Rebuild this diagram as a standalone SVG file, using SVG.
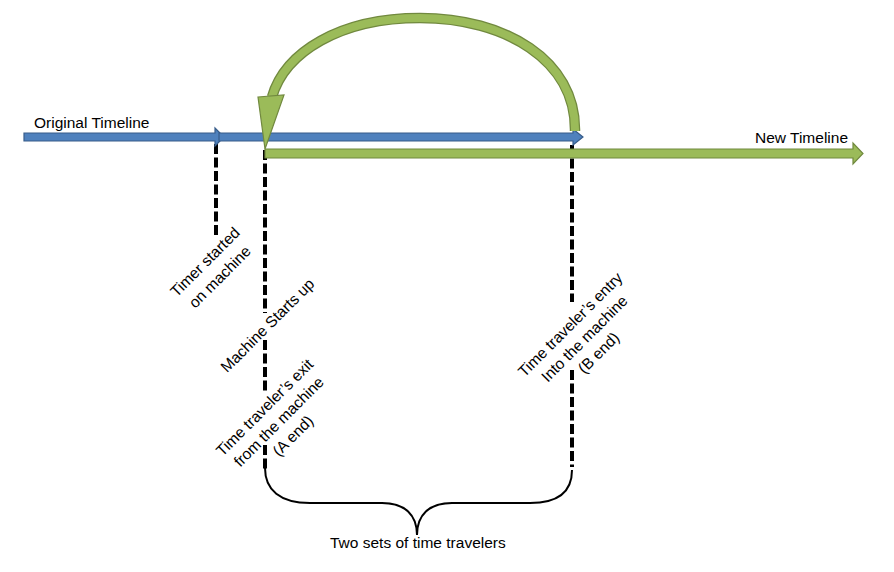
<svg xmlns="http://www.w3.org/2000/svg" width="894" height="572" viewBox="0 0 894 572">
<style>
  text { font-family: "Liberation Sans", Arial, sans-serif; font-size: 15.5px; fill: #000; }
  .rot text { text-anchor: middle; }
  .dash { stroke: #000; stroke-width: 4; stroke-dasharray: 10 3.5; fill: none; }
  .blue { fill: #4F81BD; stroke: #385D8A; stroke-width: 1.2; }
  .green { fill: #9BBB59; stroke: #71893F; stroke-width: 1.2; }
  .arcOut { fill: none; stroke: #71893F; stroke-width: 10.5; }
  .arcIn { fill: none; stroke: #9BBB59; stroke-width: 8; }
  .brace { fill: none; stroke: #000; stroke-width: 2; }
</style>
<rect width="894" height="572" fill="#fff"/>
<g id="connectors">
  <path class="dash" d="M216,144 V236"/>
  <path class="dash" d="M265,150 V313 M265,340 V392 M265,445 V470"/>
  <path class="dash" d="M572,145 V302 M572,370 V467"/>
  <path class="brace" d="M265,468 C265,490 280,503 310,503 L382,503 C405,503 417,515 417,535 C417,515 429,503 452,503 L530,503 C560,503 572,490 572,470"/>
</g>
<g id="original-timeline">
  <path class="blue" d="M24,133 L215,133 L215,128 L224,137 L215,146 L215,141 L24,141 Z"/>
  <path class="blue" d="M219,133 L573,133 L573,129 L583,137 L573,145 L573,141 L219,141 Z"/>
  <text x="34" y="128">Original Timeline</text>
</g>
<g id="loop-arrow">
  <path class="arcOut" d="M575,131 C576,60 505,18 420,18 C340,18 285,52 272,97"/>
  <path class="arcIn" d="M575,131 C576,60 505,18 420,18 C340,18 285,52 272,97"/>
  <polygon class="green" points="258,97 284,95 265,149"/>
</g>
<g id="new-timeline">
  <path class="green" d="M265,149 L853,149 L853,143 L863,153.5 L853,164 L853,158 L265,158 Z"/>
  <text x="755" y="143">New Timeline</text>
</g>
<g id="label-timer" class="rot" transform="translate(213,270) rotate(-45)">
  <text x="0" y="-6">Timer started</text>
  <text x="0" y="15">on machine</text>
</g>
<g id="label-machine" class="rot" transform="translate(268,326) rotate(-45)">
  <text x="0" y="4.5">Machine Starts up</text>
</g>
<g id="label-exit" class="rot" transform="translate(279.3,422.2) rotate(-45)">
  <text x="0" y="-15.5">Time traveler’s exit</text>
  <text x="0" y="4.5">from the machine</text>
  <text x="0" y="24.5">(A end)</text>
</g>
<g id="label-entry" class="rot" transform="translate(585,339.2) rotate(-45)">
  <text x="0" y="-15.5">Time traveler’s entry</text>
  <text x="0" y="4.5">Into the machine</text>
  <text x="0" y="24.5">(B end)</text>
</g>
<g id="label-two-sets">
  <text x="330" y="548">Two sets of time travelers</text>
</g>
</svg>
